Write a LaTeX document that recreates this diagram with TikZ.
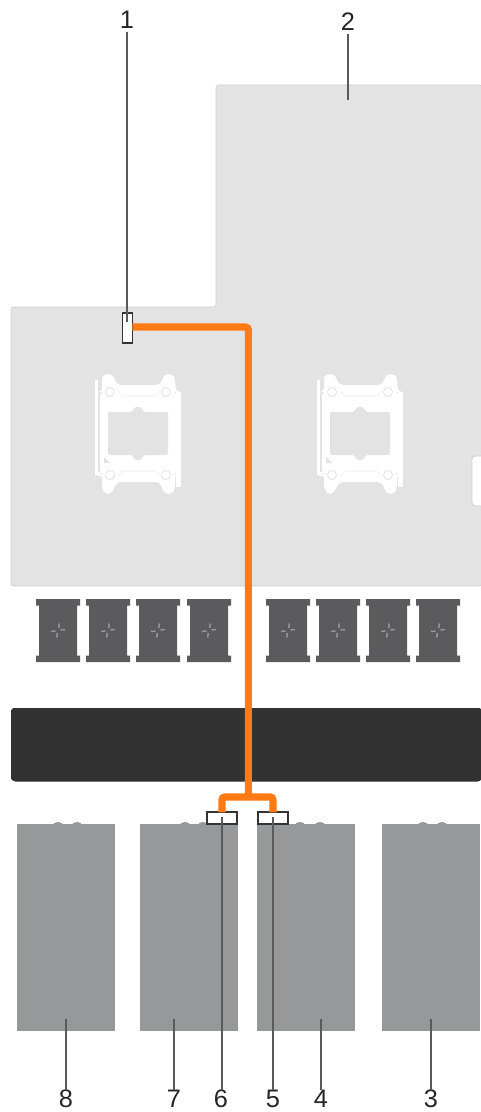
\documentclass[tikz,border=0pt]{standalone}
\usepackage{fontspec}
\setmainfont{Liberation Sans}
\tikzset{
  board/.style={fill=boardgray,draw=boardedge,line width=0.5pt,rounded corners=2pt},
  drive/.style={fill=drivegray,draw=none,minimum width=73.5pt,minimum height=155pt,inner sep=0pt,outer sep=0pt},
  conn/.style={fill=white,draw=darkline,line width=1.3pt,inner sep=0pt,outer sep=0pt},
  cable/.style={draw=cableorange,line width=5.3pt,rounded corners=2pt},
  leader/.style={draw=leadergray,line width=1.2pt},
  num/.style={font=\fontsize{19}{19}\selectfont,text=black!85,inner sep=0pt},
  fanbody/.style={fill=fangray},
  fanblade/.style={draw=fanblade,line width=1.1pt},
  sockline/.style={draw=sockgray,line width=0.5pt}
}
\definecolor{boardgray}{HTML}{E3E3E3}
\definecolor{boardedge}{HTML}{CFCFCF}
\definecolor{drivegray}{HTML}{97989A}
\definecolor{darkline}{HTML}{333333}
\definecolor{cableorange}{HTML}{FF7A12}
\definecolor{leadergray}{HTML}{5A5A5A}
\definecolor{fangray}{HTML}{5B5B5D}
\definecolor{fanblade}{HTML}{989898}
\definecolor{sockgray}{HTML}{EDEDED}
\definecolor{barblack}{HTML}{323232}
\newcommand{\sockt}[1]{%
\begin{scope}[shift={(#1,0)}]
  \fill[white] (95,380) rectangle (98,475);
  \fill[white] (176,392) rectangle (181,487);
  \fill[white] (97,476) -- (101,476) -- (101,472) -- (97,472) -- cycle;
  \fill[white,rounded corners=3pt] (102,392) -- (102,378) -- (104,374) -- (112,374) -- (115,380) -- (117,385)
     -- (160,385) -- (163,378) -- (165,374) -- (172,374) -- (175,378) -- (176,392)
     -- (177,392) -- (177,474) -- (175,474) -- (175,488) -- (172,494) -- (165,494) -- (162,488) -- (160,482)
     -- (117,482) -- (114,488) -- (111,494) -- (105,494) -- (102,488) -- (102,474) -- (100,474) -- (100,392) -- cycle;
  \fill[boardgray,rounded corners=1.5pt] (108,412) -- (133,412) -- (134,407) -- (142,407) -- (143,412) -- (168,412)
     -- (168,455) -- (143,455) -- (142,460) -- (134,460) -- (133,455) -- (108,455) -- cycle;
  \foreach \cx/\cy in {110/392,166/392,110/475,166/475}
    \draw[sockline,line width=0.6pt,draw=boardgray] (\cx,\cy) circle (4.5);
  \draw[sockline] (118,391) -- (123,396) -- (155,396) -- (160,391);
  \draw[sockline] (118,476) -- (123,471) -- (155,471) -- (160,476);
  \fill[boardgray] (104,457) -- (110,463) -- (104,463) -- cycle;
\end{scope}}
\newcommand{\fanunit}[1]{%
\begin{scope}[shift={(#1,0)}]
  \fill[fanbody] (-22,599) -- (22,599) -- (22,605.5) -- (19,605.5) -- (19,655.5) -- (22,655.5) -- (22,662) -- (-22,662) -- (-22,655.5) -- (-19,655.5) -- (-19,605.5) -- (-22,605.5) -- cycle;
  \draw[fanblade] (0.8,628) -- (1.2,623.5);
  \draw[fanblade] (2.5,630) -- (7,629.5);
  \draw[fanblade] (-0.8,633) -- (-1.2,637.5);
  \draw[fanblade] (-2.5,631) -- (-7,631.5);
\end{scope}}
\begin{document}
\begin{tikzpicture}[x=0.75pt,y=-0.75pt]
\useasboundingbox (0,0) rectangle (481,1112);
\fill[white] (0,0) rectangle (481,1112);
% system board
\path[board] (216,85) -- (482,85) -- (482,586) -- (11,586) -- (11,307) -- (216,307) -- cycle;
\draw[fill=white,draw=boardedge,line width=0.6pt,rounded corners=2.5pt] (483,456) -- (472,456) -- (472,506) -- (483,506);
\sockt{0}
\sockt{222}
% fans
\foreach \fx in {58,108,158,209,288,338,388,438} \fanunit{\fx}
% dark bar
\fill[barblack,rounded corners=3pt] (482,708) -- (11,708) -- (11,781) -- (482,781) -- cycle;
% drives
\node[drive] (d8) at (66,927.5) {};
\node[drive] (d7) at (189,927.5) {};
\node[drive] (d4) at (306,927.5) {};
\node[drive] (d3) at (431,927.5) {};
\foreach \bx in {58,77,185,203,300,320,423,442}
  \fill[drivegray] (\bx,825) ellipse (5 and 3);
% connectors
\node[conn,minimum width=7.4pt,minimum height=23pt] (c1) at (127.5,328) {};
\node[conn,minimum width=23pt,minimum height=8.6pt] (c6) at (222,818) {};
\node[conn,minimum width=23pt,minimum height=8.6pt] (c5) at (273,818) {};
\coordinate (trunk) at (248.3,797);
\coordinate (bend) at (248.3,327);
% cable
\draw[cable] (c1.east |- bend) -- (bend) -- (trunk);
\draw[cable] (c6.north) -- (c6.north |- trunk) -- (c5.north |- trunk) -- (c5.north);
% number labels
\node[num] (n1) at (127,20) {1};
\node[num] (n2) at (348,22) {2};
\node[num] (n8) at (66,1099) {8};
\node[num] (n7) at (174,1099) {7};
\node[num] (n6) at (221,1099) {6};
\node[num] (n5) at (273,1099) {5};
\node[num] (n4) at (321,1099) {4};
\node[num] (n3) at (431,1099) {3};
% leaders
\coordinate (t1) at (127,322);
\coordinate (t2) at (348,100);
\coordinate (t3) at (431,1019);
\coordinate (t4) at (321,1019);
\coordinate (t5) at (273,817);
\coordinate (t6) at (222,817);
\coordinate (t7) at (174,1019);
\coordinate (t8) at (66,1019);
\draw[leader] (n1.south) ++(0,3) -- (t1);
\draw[leader] (n2.south) ++(0,3) -- (t2);
\foreach \k in {3,4,5,6,7,8}
  \draw[leader] (t\k) -- (t\k |- n\k.north) -- ++(0,-3);
\end{tikzpicture}
\end{document}
